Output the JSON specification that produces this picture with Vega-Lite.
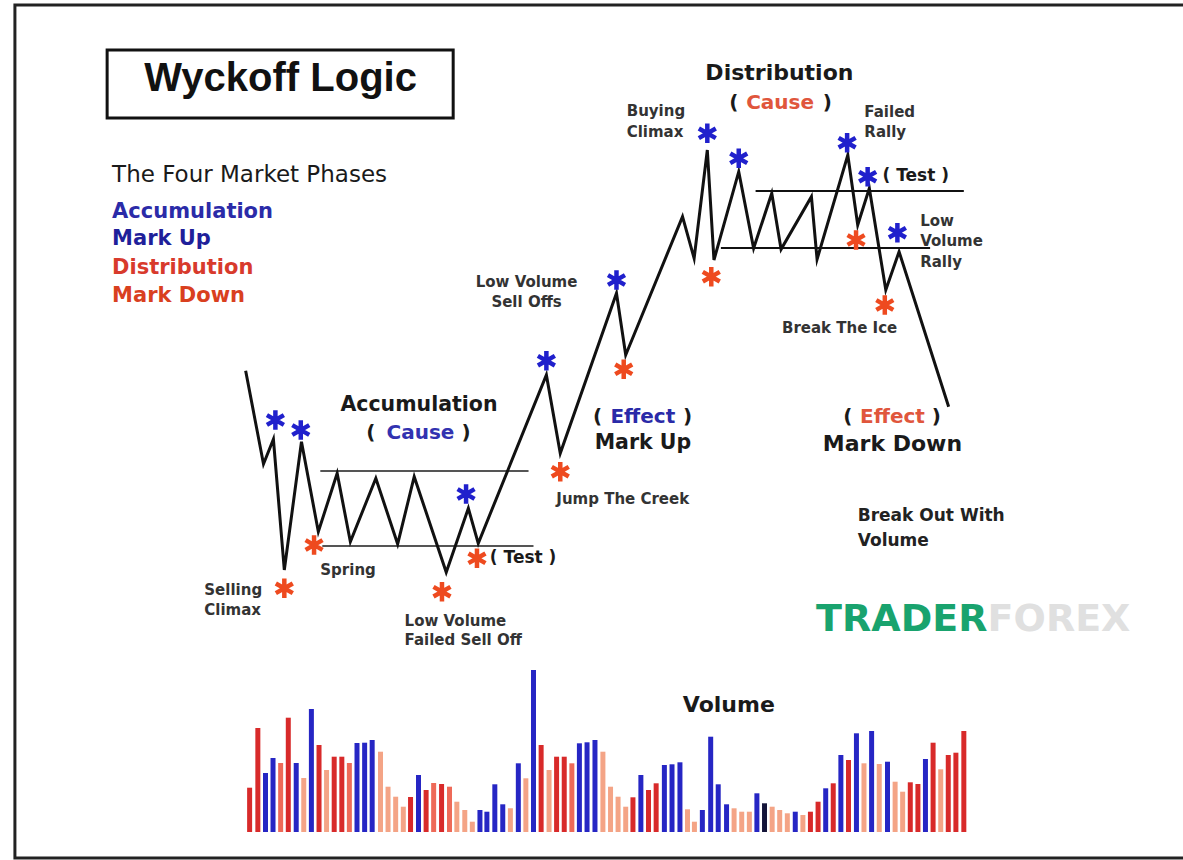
{
  "$schema": "https://vega.github.io/schema/vega-lite/v6.json",
  "width": 1183,
  "height": 860,
  "padding": 0,
  "autosize": {"type": "fit", "contains": "padding"},
  "background": "white",
  "config": {"view": {"stroke": null}},
  "datasets": {
    "price": [
      {"step": 1, "x": 242.7, "y": 461.3}, {"step": 2, "x": 260.7, "y": 368}, {"step": 3, "x": 270.7, "y": 392.7},
      {"step": 4, "x": 281.7, "y": 262}, {"step": 5, "x": 299, "y": 390.3}, {"step": 6, "x": 316, "y": 300.3},
      {"step": 7, "x": 335, "y": 358.7}, {"step": 8, "x": 348.3, "y": 290.3}, {"step": 9, "x": 374, "y": 353.7},
      {"step": 10, "x": 396, "y": 288}, {"step": 11, "x": 412.7, "y": 355.3}, {"step": 12, "x": 445, "y": 259.7},
      {"step": 13, "x": 467.3, "y": 323.7}, {"step": 14, "x": 477.3, "y": 288.7}, {"step": 15, "x": 546, "y": 457},
      {"step": 16, "x": 560, "y": 378.7}, {"step": 17, "x": 616.7, "y": 538.7}, {"step": 18, "x": 626, "y": 477},
      {"step": 19, "x": 683.3, "y": 615.3}, {"step": 20, "x": 695, "y": 573.7}, {"step": 21, "x": 708.3, "y": 682},
      {"step": 22, "x": 715, "y": 572}, {"step": 23, "x": 740, "y": 660.3}, {"step": 24, "x": 755, "y": 583.7},
      {"step": 25, "x": 773.3, "y": 638.7}, {"step": 26, "x": 782.7, "y": 582.7}, {"step": 27, "x": 813.3, "y": 635.3},
      {"step": 28, "x": 819, "y": 572.7}, {"step": 29, "x": 850, "y": 677}, {"step": 30, "x": 860, "y": 607},
      {"step": 31, "x": 871.7, "y": 643.7}, {"step": 32, "x": 888.3, "y": 542}, {"step": 33, "x": 901.7, "y": 580.3},
      {"step": 34, "x": 951.7, "y": 425.3}
    ],
    "stars": [
      {"x": 272.7, "y": 412, "type": "High"}, {"x": 298.3, "y": 402, "type": "High"}, {"x": 311.7, "y": 287, "type": "Low"},
      {"x": 281.7, "y": 243.7, "type": "Low"}, {"x": 440.7, "y": 240.3, "type": "Low"}, {"x": 465, "y": 338, "type": "High"},
      {"x": 476, "y": 273.7, "type": "Low"}, {"x": 546, "y": 471.3, "type": "High"}, {"x": 560, "y": 360.3, "type": "Low"},
      {"x": 616.7, "y": 552, "type": "High"}, {"x": 624, "y": 462.7, "type": "Low"}, {"x": 708.3, "y": 698.7, "type": "High"},
      {"x": 740, "y": 673.7, "type": "High"}, {"x": 712.3, "y": 555.3, "type": "Low"}, {"x": 849.3, "y": 689.3, "type": "High"},
      {"x": 870, "y": 655.3, "type": "High"}, {"x": 858.3, "y": 592, "type": "Low"}, {"x": 900, "y": 599.3, "type": "High"},
      {"x": 887.3, "y": 527, "type": "Low"}
    ],
    "volume": [
      {"x": 246.7, "vol": 44.3, "type": "Down"}, {"x": 255, "vol": 104, "type": "Down"}, {"x": 262.7, "vol": 59, "type": "Up"},
      {"x": 270.3, "vol": 74, "type": "Up"}, {"x": 278, "vol": 69, "type": "Mild"}, {"x": 285.7, "vol": 114.3, "type": "Down"},
      {"x": 293.7, "vol": 69, "type": "Up"}, {"x": 301.3, "vol": 54, "type": "Light"}, {"x": 309, "vol": 123, "type": "Up"},
      {"x": 316.7, "vol": 87, "type": "Down"}, {"x": 324.3, "vol": 62, "type": "Light"}, {"x": 332, "vol": 75.3, "type": "Down"},
      {"x": 339.7, "vol": 75.3, "type": "Down"}, {"x": 347.3, "vol": 69, "type": "Mild"}, {"x": 355, "vol": 89, "type": "Up"},
      {"x": 362.7, "vol": 89.3, "type": "Up"}, {"x": 370.3, "vol": 92, "type": "Up"}, {"x": 378.7, "vol": 80.3, "type": "Light"},
      {"x": 386.3, "vol": 45.3, "type": "Light"}, {"x": 394, "vol": 35.3, "type": "Light"}, {"x": 401.7, "vol": 25.3, "type": "Light"},
      {"x": 409, "vol": 35, "type": "Down"}, {"x": 417, "vol": 57, "type": "Up"}, {"x": 424.7, "vol": 42, "type": "Down"},
      {"x": 432.3, "vol": 49, "type": "Mild"}, {"x": 440.3, "vol": 48, "type": "Down"}, {"x": 448.3, "vol": 45.3, "type": "Mild"},
      {"x": 455.7, "vol": 30.3, "type": "Light"}, {"x": 463.7, "vol": 22, "type": "Light"}, {"x": 471.3, "vol": 10.3, "type": "Light"},
      {"x": 479, "vol": 22, "type": "Up"}, {"x": 486, "vol": 20.3, "type": "Up"}, {"x": 494, "vol": 47.7, "type": "Up"},
      {"x": 502, "vol": 27.7, "type": "Up"}, {"x": 509.7, "vol": 23.7, "type": "Light"}, {"x": 517.7, "vol": 68.7, "type": "Up"},
      {"x": 525.3, "vol": 53.7, "type": "Light"}, {"x": 533, "vol": 162, "type": "Up"}, {"x": 540.7, "vol": 87, "type": "Down"},
      {"x": 548.7, "vol": 62, "type": "Light"}, {"x": 556.3, "vol": 75.3, "type": "Down"}, {"x": 564, "vol": 75.3, "type": "Down"},
      {"x": 571.7, "vol": 68.7, "type": "Mild"}, {"x": 579.3, "vol": 88.7, "type": "Up"}, {"x": 587, "vol": 89.7, "type": "Up"},
      {"x": 595, "vol": 92, "type": "Up"}, {"x": 603, "vol": 80.3, "type": "Light"}, {"x": 610.7, "vol": 45.3, "type": "Light"},
      {"x": 618.3, "vol": 35.3, "type": "Light"}, {"x": 626, "vol": 25.3, "type": "Light"}, {"x": 633.3, "vol": 34.7, "type": "Down"},
      {"x": 641.3, "vol": 57, "type": "Up"}, {"x": 649, "vol": 42, "type": "Down"}, {"x": 656.7, "vol": 48.7, "type": "Down"},
      {"x": 665, "vol": 67, "type": "Up"}, {"x": 672.7, "vol": 67.7, "type": "Up"}, {"x": 680.7, "vol": 69.7, "type": "Up"},
      {"x": 688.3, "vol": 22.7, "type": "Light"}, {"x": 695.3, "vol": 10.3, "type": "Light"}, {"x": 703.3, "vol": 22, "type": "Up"},
      {"x": 711.7, "vol": 95.3, "type": "Up"}, {"x": 719.3, "vol": 47.7, "type": "Up"}, {"x": 727.7, "vol": 27.7, "type": "Up"},
      {"x": 735.3, "vol": 23.7, "type": "Light"}, {"x": 743, "vol": 20.3, "type": "Light"}, {"x": 750.7, "vol": 20.3, "type": "Light"},
      {"x": 758.3, "vol": 38.7, "type": "Up"}, {"x": 766, "vol": 28.7, "type": "Neutral"}, {"x": 773.7, "vol": 25.3, "type": "Light"},
      {"x": 781.3, "vol": 22, "type": "Light"}, {"x": 789, "vol": 18.7, "type": "Light"}, {"x": 797, "vol": 20.3, "type": "Up"},
      {"x": 804.7, "vol": 17, "type": "Light"}, {"x": 812.3, "vol": 20.3, "type": "Down"}, {"x": 820, "vol": 30.3, "type": "Down"},
      {"x": 827.7, "vol": 43.7, "type": "Up"}, {"x": 835.3, "vol": 48.7, "type": "Down"}, {"x": 843, "vol": 77, "type": "Up"},
      {"x": 850.7, "vol": 72, "type": "Down"}, {"x": 858.7, "vol": 98.7, "type": "Up"}, {"x": 866.3, "vol": 68.7, "type": "Light"},
      {"x": 874, "vol": 101, "type": "Up"}, {"x": 881.7, "vol": 68, "type": "Light"}, {"x": 890, "vol": 70.3, "type": "Up"},
      {"x": 897.7, "vol": 50.3, "type": "Light"}, {"x": 905.3, "vol": 40.3, "type": "Light"}, {"x": 913, "vol": 49.7, "type": "Down"},
      {"x": 920.7, "vol": 48, "type": "Down"}, {"x": 928.3, "vol": 73, "type": "Up"}, {"x": 936, "vol": 89.3, "type": "Down"},
      {"x": 943.7, "vol": 62.7, "type": "Light"}, {"x": 951.3, "vol": 77, "type": "Down"}, {"x": 959, "vol": 79.3, "type": "Down"},
      {"x": 967, "vol": 101, "type": "Down"}
    ]
  },
  "resolve": {"scale": {"color": "independent"}},
  "layer": [
    {
      "data": {"values": [{"x": 10, "x2": 1195, "y": 827, "y2": -26}]},
      "mark": {"type": "rect", "fill": "white", "fillOpacity": 0, "stroke": "#222222", "strokeWidth": 3, "clip": true},
      "encoding": {
        "x": {"field": "x", "type": "quantitative", "scale": {"domain": [0, 1183], "nice": false, "zero": false}, "axis": null},
        "x2": {"field": "x2"},
        "y": {"field": "y", "type": "quantitative", "scale": {"domain": [-28, 832], "nice": false, "zero": false}, "axis": null},
        "y2": {"field": "y2"}
      }
    },
    {
      "data": {"values": [{"x": 103, "x2": 452, "y": 782, "y2": 714}]},
      "mark": {"type": "rect", "fill": "white", "fillOpacity": 0, "stroke": "#111111", "strokeWidth": 3},
      "encoding": {
        "x": {"field": "x", "type": "quantitative", "scale": {"domain": [0, 1183], "nice": false, "zero": false}, "axis": null},
        "x2": {"field": "x2"},
        "y": {"field": "y", "type": "quantitative", "scale": {"domain": [-28, 832], "nice": false, "zero": false}, "axis": null},
        "y2": {"field": "y2"}
      }
    },
    {
      "data": {"values": [{"x": 318, "x2": 528, "y": 361}, {"x": 320, "x2": 533, "y": 286}]},
      "mark": {"type": "rule", "color": "#555555", "strokeWidth": 2},
      "encoding": {
        "x": {"field": "x", "type": "quantitative", "scale": {"domain": [0, 1183], "nice": false, "zero": false}, "axis": null},
        "x2": {"field": "x2"},
        "y": {"field": "y", "type": "quantitative", "scale": {"domain": [-28, 832], "nice": false, "zero": false}, "axis": null}
      }
    },
    {
      "data": {"values": [{"x": 757, "x2": 967, "y": 641}, {"x": 722, "x2": 933, "y": 584}]},
      "mark": {"type": "rule", "color": "#111111", "strokeWidth": 2},
      "encoding": {
        "x": {"field": "x", "type": "quantitative", "scale": {"domain": [0, 1183], "nice": false, "zero": false}, "axis": null},
        "x2": {"field": "x2"},
        "y": {"field": "y", "type": "quantitative", "scale": {"domain": [-28, 832], "nice": false, "zero": false}, "axis": null}
      }
    },
    {
      "data": {"name": "price"},
      "mark": {"type": "line", "color": "#111111", "strokeWidth": 3, "strokeJoin": "miter", "strokeMiterLimit": 6},
      "encoding": {
        "x": {"field": "x", "type": "quantitative", "scale": {"domain": [0, 1183], "nice": false, "zero": false}, "axis": null},
        "y": {"field": "y", "type": "quantitative", "scale": {"domain": [-28, 832], "nice": false, "zero": false}, "axis": null},
        "order": {"field": "step", "type": "quantitative"}
      }
    },
    {
      "data": {"name": "stars"},
      "mark": {"type": "point", "shape": "M0,-1L0,1M-0.87,-0.5L0.87,0.5M-0.87,0.5L0.87,-0.5", "filled": false, "size": 380, "strokeWidth": 4.5, "opacity": 1},
      "encoding": {
        "x": {"field": "x", "type": "quantitative", "scale": {"domain": [0, 1183], "nice": false, "zero": false}, "axis": null},
        "y": {"field": "y", "type": "quantitative", "scale": {"domain": [-28, 832], "nice": false, "zero": false}, "axis": null},
        "color": {"field": "type", "type": "nominal", "scale": {"domain": ["High", "Low"], "range": ["#2020cc", "#ee4a1f"]}, "legend": null}
      }
    },
    {
      "data": {"name": "volume"},
      "mark": {"type": "bar", "size": 5},
      "encoding": {
        "x": {"field": "x", "type": "quantitative", "scale": {"domain": [0, 1183], "nice": false, "zero": false}, "axis": null},
        "y": {"field": "vol", "type": "quantitative", "scale": {"domain": [-28, 832], "nice": false, "zero": false}, "axis": null},
        "y2": {"datum": 0},
        "color": {"field": "type", "type": "nominal", "scale": {"domain": ["Up", "Down", "Mild", "Light", "Neutral"], "range": ["#2626c4", "#d82a2a", "#ee6a58", "#f4a486", "#15153a"]}, "legend": null}
      }
    },
    {
      "data": {"values": [{"x": 278, "y": 753, "label": "Wyckoff Logic"}]},
      "mark": {"type": "text", "font": "Liberation Sans", "fontWeight": "bold", "fontSize": 40, "fill": "#111111", "align": "center", "baseline": "middle"},
      "encoding": {
        "x": {"field": "x", "type": "quantitative", "scale": {"domain": [0, 1183], "nice": false, "zero": false}, "axis": null},
        "y": {"field": "y", "type": "quantitative", "scale": {"domain": [-28, 832], "nice": false, "zero": false}, "axis": null},
        "text": {"field": "label"}
      }
    },
    {
      "data": {"values": [{"x": 108, "y": 657, "label": "The Four Market Phases"}]},
      "mark": {"type": "text", "font": "DejaVu Sans", "fontSize": 23, "fill": "#1a1a1a", "align": "left", "baseline": "middle"},
      "encoding": {
        "x": {"field": "x", "type": "quantitative", "scale": {"domain": [0, 1183], "nice": false, "zero": false}, "axis": null},
        "y": {"field": "y", "type": "quantitative", "scale": {"domain": [-28, 832], "nice": false, "zero": false}, "axis": null},
        "text": {"field": "label"}
      }
    },
    {
      "data": {"values": [
        {"x": 108, "y": 620.5, "label": "Accumulation", "phase": "Accumulation"},
        {"x": 108, "y": 593, "label": "Mark Up", "phase": "Mark Up"},
        {"x": 108, "y": 564.5, "label": "Distribution", "phase": "Distribution"},
        {"x": 108, "y": 536.5, "label": "Mark Down", "phase": "Mark Down"}
      ]},
      "mark": {"type": "text", "font": "DejaVu Sans", "fontWeight": "bold", "fontSize": 21, "align": "left", "baseline": "middle"},
      "encoding": {
        "x": {"field": "x", "type": "quantitative", "scale": {"domain": [0, 1183], "nice": false, "zero": false}, "axis": null},
        "y": {"field": "y", "type": "quantitative", "scale": {"domain": [-28, 832], "nice": false, "zero": false}, "axis": null},
        "text": {"field": "label"},
        "color": {"field": "phase", "type": "nominal", "scale": {"domain": ["Accumulation", "Mark Up", "Distribution", "Mark Down"], "range": ["#2b2ba8", "#1f1f9a", "#d83a2c", "#d9401f"]}, "legend": null}
      }
    },
    {
      "data": {"values": [
        {"x": 781, "y": 758.7, "label": "Distribution"},
        {"x": 895, "y": 388, "label": "Mark Down"},
        {"x": 730, "y": 127, "label": "Volume"}
      ]},
      "mark": {"type": "text", "font": "DejaVu Sans", "fontWeight": "bold", "fontSize": 22, "fill": "#1a1a1a", "align": "center", "baseline": "middle"},
      "encoding": {
        "x": {"field": "x", "type": "quantitative", "scale": {"domain": [0, 1183], "nice": false, "zero": false}, "axis": null},
        "y": {"field": "y", "type": "quantitative", "scale": {"domain": [-28, 832], "nice": false, "zero": false}, "axis": null},
        "text": {"field": "label"}
      }
    },
    {
      "data": {"values": [
        {"x": 417.5, "y": 427, "label": "Accumulation"},
        {"x": 643.3, "y": 388.7, "label": "Mark Up"}
      ]},
      "mark": {"type": "text", "font": "DejaVu Sans", "fontWeight": "bold", "fontSize": 20.5, "fill": "#1a1a1a", "align": "center", "baseline": "middle"},
      "encoding": {
        "x": {"field": "x", "type": "quantitative", "scale": {"domain": [0, 1183], "nice": false, "zero": false}, "axis": null},
        "y": {"field": "y", "type": "quantitative", "scale": {"domain": [-28, 832], "nice": false, "zero": false}, "axis": null},
        "text": {"field": "label"}
      }
    },
    {
      "data": {"values": [
        {"x": 369, "y": 399, "label": "("}, {"x": 465, "y": 399, "label": ")"},
        {"x": 735, "y": 729.5, "label": "("}, {"x": 829.3, "y": 729.5, "label": ")"},
        {"x": 597.7, "y": 415.3, "label": "("}, {"x": 688.3, "y": 415.3, "label": ")"},
        {"x": 850, "y": 415.3, "label": "("}, {"x": 939.3, "y": 415.3, "label": ")"}
      ]},
      "mark": {"type": "text", "font": "DejaVu Sans", "fontWeight": "bold", "fontSize": 20, "fill": "#1a1a1a", "align": "center", "baseline": "middle"},
      "encoding": {
        "x": {"field": "x", "type": "quantitative", "scale": {"domain": [0, 1183], "nice": false, "zero": false}, "axis": null},
        "y": {"field": "y", "type": "quantitative", "scale": {"domain": [-28, 832], "nice": false, "zero": false}, "axis": null},
        "text": {"field": "label"}
      }
    },
    {
      "data": {"values": [
        {"x": 419, "y": 399, "label": "Cause", "phase": "Accumulation"},
        {"x": 781.7, "y": 729.5, "label": "Cause", "phase": "Distribution"},
        {"x": 643.3, "y": 415.3, "label": "Effect", "phase": "Mark Up"},
        {"x": 895, "y": 415.3, "label": "Effect", "phase": "Mark Down"}
      ]},
      "mark": {"type": "text", "font": "DejaVu Sans", "fontWeight": "bold", "fontSize": 20, "align": "center", "baseline": "middle"},
      "encoding": {
        "x": {"field": "x", "type": "quantitative", "scale": {"domain": [0, 1183], "nice": false, "zero": false}, "axis": null},
        "y": {"field": "y", "type": "quantitative", "scale": {"domain": [-28, 832], "nice": false, "zero": false}, "axis": null},
        "text": {"field": "label"},
        "color": {"field": "phase", "type": "nominal", "scale": {"domain": ["Accumulation", "Mark Up", "Distribution", "Mark Down"], "range": ["#3232b0", "#2a2aa8", "#e0563c", "#e0563c"]}, "legend": null}
      }
    },
    {
      "data": {"values": [
        {"x": 489, "y": 274.5, "label": "( Test )"},
        {"x": 885, "y": 656.2, "label": "( Test )"}
      ]},
      "mark": {"type": "text", "font": "DejaVu Sans", "fontWeight": "bold", "fontSize": 17, "fill": "#1a1a1a", "align": "left", "baseline": "middle"},
      "encoding": {
        "x": {"field": "x", "type": "quantitative", "scale": {"domain": [0, 1183], "nice": false, "zero": false}, "axis": null},
        "y": {"field": "y", "type": "quantitative", "scale": {"domain": [-28, 832], "nice": false, "zero": false}, "axis": null},
        "text": {"field": "label"}
      }
    },
    {
      "data": {"values": [
        {"x": 627, "y": 721, "label": "Buying"}, {"x": 627, "y": 700.3, "label": "Climax"},
        {"x": 866.7, "y": 720.3, "label": "Failed"}, {"x": 866.7, "y": 700.3, "label": "Rally"},
        {"x": 923, "y": 611, "label": "Low"}, {"x": 923, "y": 591, "label": "Volume"}, {"x": 923, "y": 570.3, "label": "Rally"},
        {"x": 201, "y": 242, "label": "Selling"}, {"x": 201, "y": 222, "label": "Climax"},
        {"x": 318, "y": 262, "label": "Spring"},
        {"x": 556, "y": 333, "label": "Jump The Creek"},
        {"x": 403, "y": 211, "label": "Low Volume"}, {"x": 403, "y": 192, "label": "Failed Sell Off"}
      ]},
      "mark": {"type": "text", "font": "DejaVu Sans", "fontWeight": "bold", "fontSize": 15, "fill": "#333333", "align": "left", "baseline": "middle"},
      "encoding": {
        "x": {"field": "x", "type": "quantitative", "scale": {"domain": [0, 1183], "nice": false, "zero": false}, "axis": null},
        "y": {"field": "y", "type": "quantitative", "scale": {"domain": [-28, 832], "nice": false, "zero": false}, "axis": null},
        "text": {"field": "label"}
      }
    },
    {
      "data": {"values": [
        {"x": 526, "y": 550.3, "label": "Low Volume"}, {"x": 526, "y": 530, "label": "Sell Offs"},
        {"x": 841.7, "y": 504.5, "label": "Break The Ice"}
      ]},
      "mark": {"type": "text", "font": "DejaVu Sans", "fontWeight": "bold", "fontSize": 15, "fill": "#333333", "align": "center", "baseline": "middle"},
      "encoding": {
        "x": {"field": "x", "type": "quantitative", "scale": {"domain": [0, 1183], "nice": false, "zero": false}, "axis": null},
        "y": {"field": "y", "type": "quantitative", "scale": {"domain": [-28, 832], "nice": false, "zero": false}, "axis": null},
        "text": {"field": "label"}
      }
    },
    {
      "data": {"values": [
        {"x": 860, "y": 316.2, "label": "Break Out With"}, {"x": 860, "y": 291.2, "label": "Volume"}
      ]},
      "mark": {"type": "text", "font": "DejaVu Sans", "fontWeight": "bold", "fontSize": 17, "fill": "#222222", "align": "left", "baseline": "middle"},
      "encoding": {
        "x": {"field": "x", "type": "quantitative", "scale": {"domain": [0, 1183], "nice": false, "zero": false}, "axis": null},
        "y": {"field": "y", "type": "quantitative", "scale": {"domain": [-28, 832], "nice": false, "zero": false}, "axis": null},
        "text": {"field": "label"}
      }
    },
    {
      "data": {"values": [{"x": 818, "y": 212, "label": "TRADER"}]},
      "mark": {"type": "text", "font": "DejaVu Sans", "fontWeight": "bold", "fontSize": 38, "fill": "#19a36e", "align": "left", "baseline": "middle"},
      "encoding": {
        "x": {"field": "x", "type": "quantitative", "scale": {"domain": [0, 1183], "nice": false, "zero": false}, "axis": null},
        "y": {"field": "y", "type": "quantitative", "scale": {"domain": [-28, 832], "nice": false, "zero": false}, "axis": null},
        "text": {"field": "label"}
      }
    },
    {
      "data": {"values": [{"x": 1135, "y": 212, "label": "FOREX"}]},
      "mark": {"type": "text", "font": "DejaVu Sans", "fontWeight": "bold", "fontSize": 38, "fill": "#e0e0e0", "align": "right", "baseline": "middle"},
      "encoding": {
        "x": {"field": "x", "type": "quantitative", "scale": {"domain": [0, 1183], "nice": false, "zero": false}, "axis": null},
        "y": {"field": "y", "type": "quantitative", "scale": {"domain": [-28, 832], "nice": false, "zero": false}, "axis": null},
        "text": {"field": "label"}
      }
    }
  ]
}
